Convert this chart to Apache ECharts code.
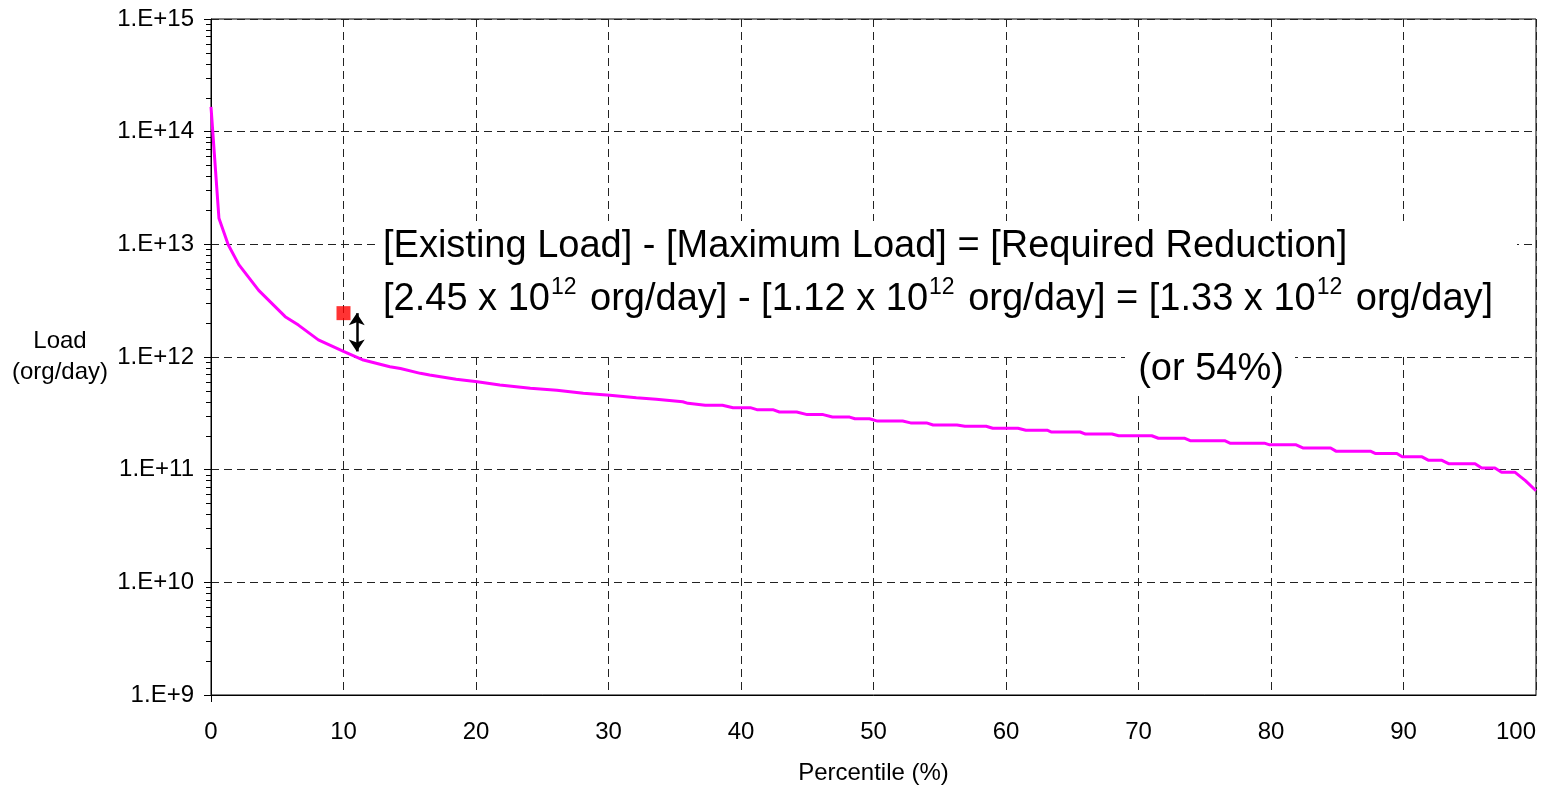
<!DOCTYPE html>
<html>
<head>
<meta charset="utf-8">
<title>Load duration curve</title>
<script src="https://cdn.jsdelivr.net/npm/echarts@6/dist/echarts.min.js"></script>
<style>
  html, body { margin: 0; padding: 0; background: #fff; }
  #chart { width: 1564px; height: 786px; }
</style>
</head>
<body>
<div id="chart"></div>
<script>
// percentile (%) along the x axis
const percentile = [
  0, 0.6, 1.3, 2.1, 3.6, 5.6, 6.6, 8.1, 10, 11.5, 13.5, 14.3, 15.8, 16.5, 18.5,
  20.1, 21.8, 24.1, 26.1, 28.1, 30.1, 32.1, 33.6, 35.6, 36.0, 37.3, 38.6, 39.4,
  40.7, 41.2, 42.4, 42.9, 44.2, 45.0, 46.2, 46.9, 48.2, 48.6, 49.7, 50.3, 52.2,
  52.8, 54.0, 54.5, 56.3, 56.9, 58.5, 59.0, 60.9, 61.5, 63.1, 63.4, 65.6, 66.0,
  68.0, 68.5, 71.0, 71.5, 73.5, 73.9, 76.5, 76.9, 79.5, 79.9, 81.9, 82.4, 84.5,
  84.9, 87.5, 87.9, 89.5, 89.9, 91.4, 91.9, 92.9, 93.4, 95.4, 95.9, 96.9, 97.4,
  98.4, 99.2, 100
];
// load (org/day)
const load = [
  1.66e14, 1.7e13, 9.9e12, 6.6e12, 3.9e12, 2.28e12, 1.92e12, 1.42e12, 1.12e12, 9.4e11, 8.2e11, 7.9e11, 7.16e11, 6.92e11, 6.34e11,
  6.04e11, 5.65e11, 5.28e11, 5.06e11, 4.76e11, 4.57e11, 4.35e11, 4.22e11, 4.01e11, 3.88e11, 3.73e11, 3.73e11, 3.55e11,
  3.55e11, 3.41e11, 3.41e11, 3.25e11, 3.25e11, 3.08e11, 3.08e11, 2.93e11, 2.93e11, 2.83e11, 2.83e11, 2.70e11, 2.70e11,
  2.60e11, 2.60e11, 2.49e11, 2.49e11, 2.43e11, 2.43e11, 2.33e11, 2.33e11, 2.24e11, 2.24e11, 2.16e11, 2.16e11, 2.07e11,
  2.07e11, 2.00e11, 2.00e11, 1.90e11, 1.90e11, 1.81e11, 1.81e11, 1.72e11, 1.72e11, 1.66e11, 1.66e11, 1.56e11, 1.56e11,
  1.46e11, 1.46e11, 1.39e11, 1.39e11, 1.30e11, 1.30e11, 1.21e11, 1.21e11, 1.13e11, 1.13e11, 1.035e11, 1.035e11, 9.5e10,
  9.5e10, 8.0e10, 6.5e10
];

// existing load point and the reduction arrow
const existingPct = 10;
const existingLoad = 2.45e12;
const maximumLoad = 1.12e12;
const arrowPct = 11;
const reductionShare = '54%';

// axis ticks
const xTicks = [0, 10, 20, 30, 40, 50, 60, 70, 80, 90, 100];
const yDecades = [9, 10, 11, 12, 13, 14, 15];
const minorSteps = [2, 3, 4, 5, 6, 7, 8, 9];

const FONT = '"Liberation Sans", Arial, sans-serif';

// log positions of the 2..9 minor ticks, drawn on a hidden helper axis
const minorTicks = [];
yDecades.slice(0, -1).forEach(d => {
  minorSteps.forEach(k => minorTicks.push(d + Math.log10(k)));
});

const fmtSci = (v, d) => v.toFixed(2) + ' x 10{sup|' + d + '} org/day';
const fmtLoad = v => {
  const e = Math.floor(Math.log10(v) + 1e-9);
  return fmtSci(v / Math.pow(10, e), e);
};
const reduction = existingLoad - maximumLoad;

const chart = echarts.init(document.getElementById('chart'));

const gridDash = { color: '#222', type: [8, 5], width: 1 };

const option = {
  backgroundColor: '#fff',
  animation: false,
  textStyle: { fontFamily: FONT },
  grid: {
    left: 211, right: 28, top: 19, bottom: 91,
    outerBoundsMode: 'none',
    show: true, borderColor: '#000', borderWidth: 1,
    backgroundColor: 'transparent'
  },
  xAxis: [
    {
      type: 'value',
      min: xTicks[0],
      max: xTicks[xTicks.length - 1],
      interval: 10,
      position: 'bottom',
      name: 'Percentile (%)',
      nameLocation: 'middle',
      nameGap: 66,
      nameTextStyle: { fontSize: 24, color: '#000', fontFamily: FONT },
      axisLine: { lineStyle: { color: '#000', width: 1 } },
      axisTick: { show: false },
      axisLabel: { fontSize: 24, color: '#000', margin: 25, fontFamily: FONT, alignMaxLabel: 'right' },
      splitLine: { show: true, lineStyle: gridDash }
    },
    {
      // helper axis: the single tick below the origin
      type: 'value',
      min: xTicks[0],
      max: xTicks[xTicks.length - 1],
      position: 'bottom',
      offset: 0,
      axisLine: { show: false },
      axisLabel: { show: false },
      splitLine: { show: false },
      axisTick: { show: true, customValues: [xTicks[0]], length: 7, lineStyle: { color: '#000' } }
    }
  ],
  yAxis: [
    {
      type: 'log',
      logBase: 10,
      min: Math.pow(10, yDecades[0]),
      max: Math.pow(10, yDecades[yDecades.length - 1]),
      interval: 1,
      position: 'left',
      name: 'Load\n(org/day)',
      nameLocation: 'middle',
      nameRotate: 0,
      nameGap: 151,
      nameTextStyle: { fontSize: 24, color: '#000', align: 'center', verticalAlign: 'middle', lineHeight: 31, fontFamily: FONT },
      axisLine: { show: true, lineStyle: { color: '#000', width: 1 } },
      axisTick: { show: true, length: 7, lineStyle: { color: '#000' } },
      axisLabel: {
        fontSize: 24, color: '#000', margin: 17, fontFamily: FONT,
        formatter: v => '1.E+' + Math.round(Math.log10(v))
      },
      splitLine: { show: true, lineStyle: gridDash }
    },
    {
      // helper axis: only the minor ticks
      type: 'value',
      min: yDecades[0],
      max: yDecades[yDecades.length - 1],
      position: 'left',
      offset: 0,
      axisLine: { show: false },
      axisLabel: { show: false },
      splitLine: { show: false },
      axisTick: { show: true, customValues: minorTicks, length: 5, lineStyle: { color: '#000' } }
    }
  ],
  series: [
    {
      name: 'Load',
      type: 'line',
      xAxisIndex: 0,
      yAxisIndex: 0,
      data: percentile.map((p, i) => [p, load[i]]),
      showSymbol: false,
      symbol: 'none',
      lineStyle: { color: '#FF00FF', width: 3 },
      z: 3
    },
    {
      name: 'Existing load',
      type: 'scatter',
      xAxisIndex: 0,
      yAxisIndex: 0,
      data: [[existingPct, existingLoad]],
      symbol: 'rect',
      symbolSize: 14,
      itemStyle: { color: '#FF0000' },
      z: 4,
      markLine: {
        silent: true,
        symbol: ['arrow', 'arrow'],
        symbolSize: [12, 12],
        label: { show: false },
        lineStyle: { color: '#000', width: 2.5, type: 'solid' },
        data: [[
          { coord: [arrowPct, existingLoad] },
          { coord: [arrowPct, maximumLoad] }
        ]]
      }
    }
  ],
  graphic: [
    {
      type: 'rect', z: 10, silent: true,
      shape: { x: 376, y: 221, width: 1141, height: 135 },
      style: { fill: '#fff' }
    },
    {
      type: 'text', z: 11, silent: true,
      x: 383, y: 247,
      style: {
        text: '[Existing Load] - [Maximum Load] = [Required Reduction]',
        fontSize: 38, fontFamily: FONT, fill: '#000',
        align: 'left', verticalAlign: 'middle'
      }
    },
    {
      type: 'text', z: 11, silent: true,
      x: 383, y: 300,
      style: {
        text: '[' + fmtLoad(existingLoad) + '] - [' + fmtLoad(maximumLoad) + '] = [' + fmtLoad(reduction) + ']',
        fontSize: 38, fontFamily: FONT, fill: '#000',
        align: 'left', verticalAlign: 'middle',
        rich: {
          sup: { fontSize: 23, fontFamily: FONT, fill: '#000', padding: [0, 3, 25, 1] }
        }
      }
    },
    {
      type: 'rect', z: 10, silent: true,
      shape: { x: 1125, y: 345, width: 170, height: 50 },
      style: { fill: '#fff' }
    },
    {
      type: 'text', z: 11, silent: true,
      x: 1211, y: 370,
      style: {
        text: '(or ' + reductionShare + ')',
        fontSize: 38, fontFamily: FONT, fill: '#000',
        align: 'center', verticalAlign: 'middle'
      }
    }
  ]
};

chart.setOption(option);
</script>
</body>
</html>
